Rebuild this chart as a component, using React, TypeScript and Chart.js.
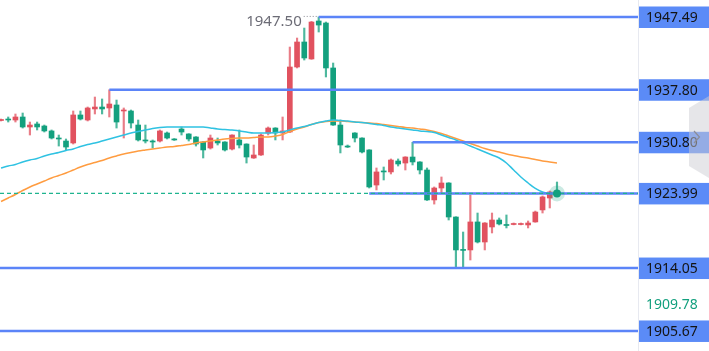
import React, { useEffect, useRef } from "react";
import { Chart, registerables } from "chart.js";
Chart.register(...registerables);

// ---- candle data (open / high / low / close) ----
const OPENS = [
  1933.70, 1933.90, 1933.77, 1934.17, 1932.84, 1933.24, 1932.97, 1932.31, 1931.37, 1930.97,
  1930.71, 1934.44, 1933.77, 1935.24, 1935.50, 1935.37, 1935.77, 1934.97, 1934.97, 1933.10,
  1931.11, 1930.97, 1930.97, 1932.04, 1931.24, 1932.57, 1931.91, 1931.51, 1930.84, 1930.04,
  1930.97, 1930.84, 1929.90, 1931.11, 1930.57, 1928.71, 1929.11, 1932.04, 1932.70, 1932.04,
  1932.17, 1940.83, 1944.16, 1941.90, 1946.96, 1946.69, 1940.70, 1933.10, 1930.30, 1932.04,
  1931.37, 1929.78, 1925.11, 1926.98, 1926.85, 1928.31, 1928.04, 1928.84, 1928.18, 1927.11,
  1923.12, 1924.71, 1925.38, 1920.85, 1916.52, 1916.46, 1920.19, 1917.52, 1919.52, 1920.45,
  1919.85, 1919.85, 1919.85, 1919.79, 1920.19, 1921.79, 1923.38, 1924.05,
];
const HIGHS = [
  1933.90, 1934.17, 1934.57, 1934.70, 1933.50, 1933.50, 1933.10, 1932.44, 1931.77, 1931.24,
  1934.97, 1934.97, 1935.50, 1936.83, 1936.57, 1937.80, 1936.43, 1935.37, 1935.10, 1933.77,
  1933.10, 1931.11, 1932.44, 1932.17, 1931.30, 1932.84, 1931.95, 1931.55, 1930.88, 1931.77,
  1931.37, 1930.88, 1931.80, 1932.44, 1930.60, 1930.44, 1931.91, 1932.84, 1932.75, 1934.17,
  1943.49, 1944.69, 1946.02, 1946.90, 1947.50, 1946.82, 1941.36, 1933.77, 1930.44, 1932.08,
  1931.40, 1929.82, 1927.38, 1927.51, 1928.58, 1928.58, 1928.88, 1930.80, 1928.22, 1927.38,
  1924.85, 1926.18, 1925.42, 1920.88, 1918.85, 1923.78, 1921.38, 1920.10, 1921.38, 1920.72,
  1921.12, 1920.05, 1920.05, 1920.32, 1921.64, 1923.65, 1924.31, 1925.51,
];
const LOWS = [
  1933.64, 1933.50, 1933.50, 1932.70, 1931.77, 1932.44, 1932.17, 1931.24, 1930.30, 1929.78,
  1930.57, 1933.77, 1933.64, 1934.57, 1934.57, 1934.17, 1932.70, 1931.37, 1932.70, 1930.97,
  1930.71, 1930.04, 1930.84, 1931.24, 1931.05, 1931.77, 1930.97, 1930.30, 1928.71, 1929.90,
  1930.44, 1929.64, 1929.78, 1930.04, 1928.04, 1928.65, 1929.05, 1931.77, 1931.11, 1931.11,
  1932.10, 1940.70, 1941.76, 1941.85, 1945.49, 1939.50, 1933.05, 1929.38, 1930.10, 1930.84,
  1929.38, 1924.71, 1924.45, 1925.78, 1926.58, 1927.64, 1927.11, 1927.78, 1926.58, 1923.05,
  1922.57, 1924.05, 1920.45, 1914.19, 1914.05, 1915.12, 1917.39, 1916.46, 1918.72, 1919.79,
  1919.39, 1919.80, 1919.80, 1919.39, 1920.15, 1921.38, 1922.05, 1923.99,
];
const CLOSES = [
  1933.84, 1933.77, 1934.17, 1932.84, 1933.10, 1932.84, 1932.31, 1931.37, 1931.24, 1930.17,
  1934.44, 1933.90, 1935.37, 1935.50, 1935.24, 1935.90, 1933.50, 1935.10, 1933.37, 1931.11,
  1930.97, 1930.84, 1932.31, 1931.37, 1931.11, 1932.17, 1931.24, 1930.57, 1929.78, 1931.37,
  1930.71, 1929.78, 1931.77, 1930.44, 1928.84, 1929.11, 1931.77, 1932.70, 1932.04, 1932.31,
  1940.83, 1944.16, 1942.03, 1946.82, 1946.42, 1940.70, 1933.10, 1930.44, 1930.17, 1931.37,
  1929.51, 1924.85, 1926.85, 1926.85, 1928.44, 1927.91, 1928.84, 1928.18, 1927.11, 1923.12,
  1924.71, 1925.38, 1920.85, 1916.46, 1916.40, 1920.19, 1917.52, 1920.05, 1920.45, 1919.92,
  1919.72, 1919.98, 1919.98, 1920.05, 1921.51, 1923.52, 1924.18, 1923.99,
];

// ---- moving averages ----
const MA_FAST = [
  1927.38, 1927.64, 1927.84, 1928.18, 1928.44, 1928.64, 1928.98, 1929.24, 1929.44, 1929.71,
  1929.91, 1930.24, 1930.51, 1930.71, 1930.97, 1931.24, 1931.51, 1931.77, 1932.04, 1932.24,
  1932.44, 1932.64, 1932.77, 1932.84, 1932.84, 1932.84, 1932.84, 1932.84, 1932.84, 1932.70,
  1932.57, 1932.50, 1932.44, 1932.31, 1932.17, 1932.04, 1932.04, 1932.04, 1932.11, 1932.17,
  1932.44, 1932.70, 1932.90, 1933.17, 1933.44, 1933.64, 1933.77, 1933.70, 1933.64, 1933.50,
  1933.44, 1933.30, 1933.17, 1933.04, 1932.84, 1932.70, 1932.57, 1932.44, 1932.31, 1932.24,
  1932.11, 1931.77, 1931.44, 1931.11, 1930.71, 1930.30, 1929.91, 1929.51, 1929.11, 1928.71,
  1928.04, 1927.11, 1926.18, 1925.38, 1924.65, 1924.18, 1923.98, 1923.99,
];
const MA_SLOW = [
  1922.92, 1923.38, 1923.85, 1924.38, 1924.85, 1925.25, 1925.65, 1926.05, 1926.38, 1926.71,
  1927.11, 1927.51, 1927.84, 1928.11, 1928.38, 1928.71, 1928.98, 1929.24, 1929.44, 1929.64,
  1929.78, 1929.91, 1930.04, 1930.17, 1930.24, 1930.37, 1930.51, 1930.71, 1930.84, 1930.97,
  1931.11, 1931.24, 1931.31, 1931.37, 1931.37, 1931.44, 1931.51, 1931.51, 1931.64, 1931.84,
  1932.24, 1932.57, 1932.84, 1933.17, 1933.44, 1933.57, 1933.64, 1933.64, 1933.57, 1933.50,
  1933.44, 1933.37, 1933.30, 1933.17, 1933.04, 1932.90, 1932.77, 1932.70, 1932.57, 1932.44,
  1932.24, 1931.97, 1931.64, 1931.31, 1930.97, 1930.64, 1930.30, 1929.97, 1929.71, 1929.51,
  1929.24, 1929.04, 1928.84, 1928.71, 1928.51, 1928.31, 1928.18, 1928.04,
];

// ---- horizontal price levels ----
const LEVELS = [1947.49, 1937.8, 1930.8, 1923.99, 1914.05, 1905.67];
const LEVEL_LABELS = ["1947.49", "1937.80", "1930.80", "1923.99", "1914.05", "1905.67"];
const LEVEL_FROM = [44, 15, 57, 51, -1, -1]; // candle index where a level starts (-1: left edge)
const LAST_PRICE = 1923.99;
const HIGH_MARK = 1947.5;
const HIGH_MARK_LABEL = "1947.50";
const HIGH_MARK_INDEX = 44;
const STAT_VALUE = 1909.78;
const STAT_LABEL = "1909.78";

const X_MIN = -0.14;
const X_MAX = 88.22;
const Y_MIN = 1903.0;
const Y_MAX = 1949.754;

const RED = "#e1525f";
const RED_WICK = "rgba(225,82,95,0.75)";
const GREEN = "#13a07e";
const GREEN_WICK = "rgba(19,160,126,0.75)";
const LEVEL_BLUE = "#5b84f8";
const BOX_BLUE = "#5b8bf7";

export default function App() {
  const ref = useRef<HTMLCanvasElement>(null);

  useEffect(() => {
    document.body.style.margin = "0";
    const canvas = ref.current;
    if (!canvas) return;
    const idx = OPENS.map((_, i) => i);
    const up = idx.map((i) => CLOSES[i] >= OPENS[i]);
    const last = OPENS.length - 1;

    const levelSets = LEVELS.map((v, k) => ({
      type: "line" as const,
      data: [
        { x: LEVEL_FROM[k] < 0 ? X_MIN : LEVEL_FROM[k], y: v },
        { x: X_MAX, y: v },
      ],
      borderColor: LEVEL_BLUE,
      borderWidth: 2.5,
      pointRadius: 0,
      order: 3,
    }));

    const overlay = {
      id: "overlay",
      afterDraw(chart: any) {
        const { ctx, chartArea, scales } = chart;
        const ys = scales.y;
        const xs = scales.x;
        const right = chartArea.right;
        ctx.save();
        // axis separator
        ctx.strokeStyle = "#e7e9f0";
        ctx.lineWidth = 1;
        ctx.beginPath();
        ctx.moveTo(right + 0.5, 0);
        ctx.lineTo(right + 0.5, chart.height);
        ctx.stroke();
        // level label boxes
        ctx.font = '14px "Noto Sans"';
        ctx.textBaseline = "middle";
        ctx.textAlign = "left";
        LEVELS.forEach((v, k) => {
          const py = ys.getPixelForValue(v);
          ctx.fillStyle = BOX_BLUE;
          ctx.fillRect(right + 1, py - 10.5, chart.width - right - 1, 21.5);
          ctx.fillStyle = "#141414";
          ctx.fillText(LEVEL_LABELS[k], right + 8, py + 1);
        });
        // stat label
        ctx.fillStyle = GREEN;
        ctx.fillText(STAT_LABEL, right + 8, ys.getPixelForValue(STAT_VALUE) + 5);
        // high mark
        const hx = xs.getPixelForValue(HIGH_MARK_INDEX);
        const hy = ys.getPixelForValue(HIGH_MARK);
        ctx.font = '15px "Noto Sans"';
        ctx.textAlign = "right";
        ctx.fillStyle = "#6c6c76";
        ctx.fillText(HIGH_MARK_LABEL, hx - 17, hy + 4.5);
        ctx.strokeStyle = "#8a8a94";
        ctx.setLineDash([1, 2]);
        ctx.beginPath();
        ctx.moveTo(hx - 15, hy - 0.5);
        ctx.lineTo(hx - 1, hy - 0.5);
        ctx.stroke();
        ctx.setLineDash([]);
        // collapse tab
        const w = chart.width;
        ctx.fillStyle = "rgba(205,205,212,0.5)";
        ctx.beginPath();
        ctx.moveTo(w, 96);
        ctx.lineTo(689, 108);
        ctx.lineTo(689, 166);
        ctx.lineTo(w, 178);
        ctx.closePath();
        ctx.fill();
        ctx.strokeStyle = "#8d8d96";
        ctx.lineWidth = 1.2;
        ctx.beginPath();
        ctx.moveTo(694, 131);
        ctx.lineTo(699.5, 137);
        ctx.lineTo(694, 143);
        ctx.stroke();
        ctx.restore();
      },
    };

    const chart = new Chart(canvas, {
      type: "bar",
      data: {
        datasets: [
          {
            type: "line",
            data: [{ x: last, y: CLOSES[last] }],
            showLine: false,
            pointRadius: 4,
            pointBorderWidth: 0,
            pointBackgroundColor: GREEN,
            order: 0,
          },
          {
            type: "line",
            data: [{ x: last, y: CLOSES[last] }],
            showLine: false,
            pointRadius: 8,
            pointBorderWidth: 0,
            pointBackgroundColor: "rgba(19,160,126,0.22)",
            order: 1,
          },
          {
            type: "line",
            data: [
              { x: X_MIN, y: LAST_PRICE },
              { x: X_MAX, y: LAST_PRICE },
            ],
            borderColor: "#1fb48f",
            borderWidth: 1.2,
            borderDash: [4, 3],
            pointRadius: 0,
            order: 2,
          },
          ...levelSets,
          {
            type: "line",
            data: idx.map((i) => ({ x: i, y: MA_FAST[i] })),
            borderColor: "#2fc2e2",
            borderWidth: 1.5,
            pointRadius: 0,
            tension: 0.4,
            order: 4,
          },
          {
            type: "line",
            data: idx.map((i) => ({ x: i, y: MA_SLOW[i] })),
            borderColor: "#ff9c40",
            borderWidth: 1.5,
            pointRadius: 0,
            tension: 0.4,
            order: 4,
          },
          {
            type: "bar",
            data: idx.map((i) => ({ x: i, y: [OPENS[i], CLOSES[i]] })) as any,
            backgroundColor: idx.map((i) => (up[i] ? RED : GREEN)),
            barThickness: 5,
            minBarLength: 1,
            grouped: false,
            order: 5,
          },
          {
            type: "bar",
            data: idx.map((i) => ({ x: i, y: [LOWS[i], HIGHS[i]] })) as any,
            backgroundColor: idx.map((i) => (up[i] ? RED_WICK : GREEN_WICK)),
            barThickness: 1.5,
            grouped: false,
            order: 6,
          },
        ] as any,
      },
      options: {
        responsive: false,
        animation: false,
        devicePixelRatio: 1,
        events: [],
        layout: { autoPadding: false, padding: { left: 0, top: 0, bottom: 0, right: 71 } },
        plugins: { legend: { display: false }, tooltip: { enabled: false } },
        scales: {
          x: { type: "linear", min: X_MIN, max: X_MAX, offset: false, display: false },
          y: { type: "linear", min: Y_MIN, max: Y_MAX, display: false },
        },
      },
      plugins: [overlay],
    });
    return () => chart.destroy();
  }, []);

  return <canvas ref={ref} width={709} height={351} style={{ display: "block" }} />;
}
